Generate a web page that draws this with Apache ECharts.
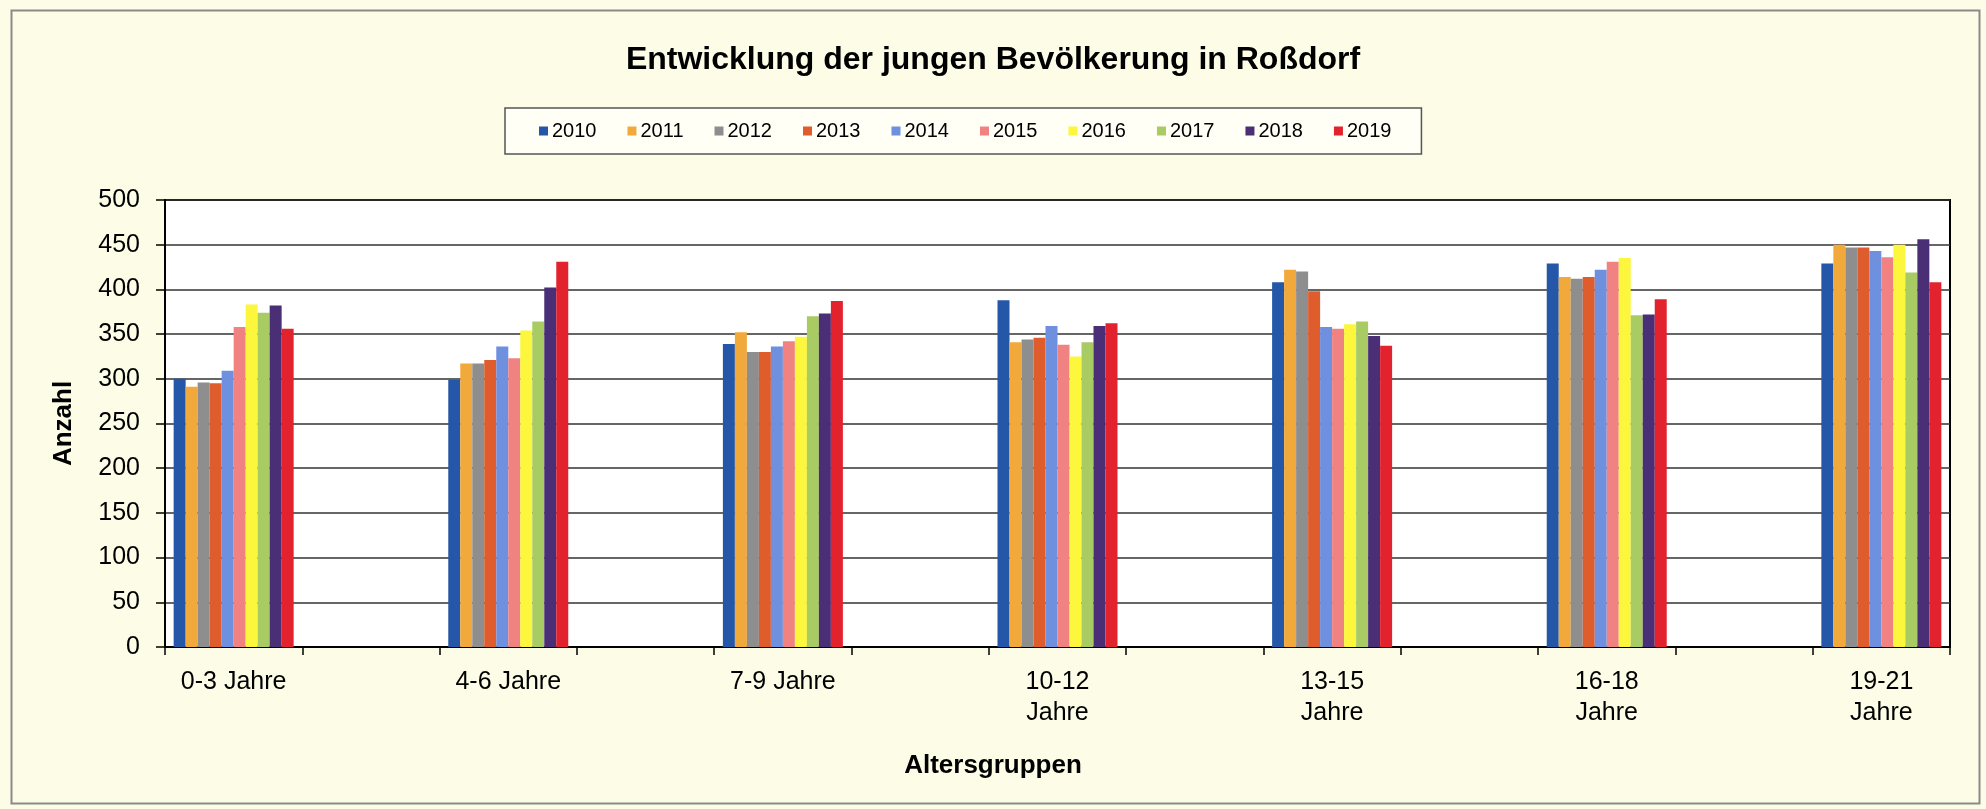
<!DOCTYPE html>
<html>
<head>
<meta charset="utf-8">
<script src="https://cdn.jsdelivr.net/npm/echarts@6/dist/echarts.min.js"></script>
<style>
html,body{margin:0;padding:0;background:#fdfce6;}
#chart{width:1986px;height:809px;}
</style>
</head>
<body>
<div id="chart"></div>
<script>
// Age groups (x categories)
const ageGroups = ['0-3 Jahre', '4-6 Jahre', '7-9 Jahre', '10-12 Jahre', '13-15 Jahre', '16-18 Jahre', '19-21 Jahre'];
// Years (series)
const years = ['2010', '2011', '2012', '2013', '2014', '2015', '2016', '2017', '2018', '2019'];
// Values per year, one per age group
const v2010 = [300, 299, 339, 388, 408, 429, 429];
const v2011 = [291, 317, 352, 341, 422, 414, 450];
const v2012 = [296, 317, 330, 344, 420, 412, 447];
const v2013 = [295, 321, 330, 346, 398, 414, 447];
const v2014 = [309, 336, 336, 359, 358, 422, 443];
const v2015 = [358, 323, 342, 338, 356, 431, 436];
const v2016 = [383, 354, 347, 325, 361, 435, 450];
const v2017 = [374, 364, 370, 341, 364, 371, 419];
const v2018 = [382, 402, 373, 359, 348, 372, 456];
const v2019 = [356, 431, 387, 362, 337, 389, 408];
const yTicks = [0, 50, 100, 150, 200, 250, 300, 350, 400, 450, 500];

const seriesValues = [v2010, v2011, v2012, v2013, v2014, v2015, v2016, v2017, v2018, v2019];
const colors = ['#2457a8', '#f2a93b', '#8e8e8e', '#df5c2c', '#6f8fdf', '#f08282', '#fcf63c', '#a9cb64', '#4b2f76', '#e2232e'];

// The original chart places an empty category between each age group
const cats = [];
ageGroups.forEach((g, i) => { cats.push(g); if (i < ageGroups.length - 1) cats.push(''); });
function spread(arr) {
  const out = [];
  arr.forEach((v, i) => { out.push(v); if (i < arr.length - 1) out.push(null); });
  return out;
}

const font = 'Liberation Sans, Arial, sans-serif';
const chart = echarts.init(document.getElementById('chart'));
chart.setOption({
  backgroundColor: '#fdfce6',
  animation: false,
  textStyle: { fontFamily: font, color: '#000' },
  title: [
    { text: 'Entwicklung der jungen Bevölkerung in Roßdorf', left: 'center', top: 39,
      textStyle: { fontSize: 32, fontWeight: 'bold', color: '#000', fontFamily: font } },
    { text: 'Altersgruppen', left: 'center', top: 748,
      textStyle: { fontSize: 26, fontWeight: 'bold', color: '#000', fontFamily: font } }
  ],
  legend: {
    data: years,
    left: 505, top: 108,
    itemWidth: 9, itemHeight: 9, itemGap: 31,
    padding: [13, 30, 13, 34],
    borderColor: '#555', borderWidth: 1.5,
    backgroundColor: '#fffff6',
    textStyle: { fontSize: 20, color: '#000', fontFamily: font, padding: [0, 0, 0, -1] },
    icon: 'rect'
  },
  graphic: [
    { type: 'rect', left: 9, top: 8, shape: { width: 1968, height: 793 },
      style: { fill: null, stroke: '#8a8a8a', lineWidth: 2 }, silent: true, z: -1 }
  ],
  grid: {
    left: 165, right: 36, top: 200, bottom: 162,
    show: true, backgroundColor: '#ffffff', borderColor: '#000', borderWidth: 2
  },
  xAxis: {
    type: 'category',
    data: cats,
    axisLine: { lineStyle: { color: '#000', width: 2 } },
    axisTick: { show: true, interval: 0, length: 8, lineStyle: { color: '#000', width: 1.5 } },
    axisLabel: {
      interval: 0, margin: 20, fontSize: 25, color: '#000', fontFamily: font, lineHeight: 31,
      formatter: (s) => s.length > 9 ? s.replace(' ', '\n') : s
    }
  },
  yAxis: {
    type: 'value', min: 0, max: 500, interval: 50,
    name: 'Anzahl', nameLocation: 'middle', nameGap: 88, nameRotate: 90,
    nameTextStyle: { fontSize: 26, fontWeight: 'bold', color: '#000', fontFamily: font },
    axisLine: { show: true, lineStyle: { color: '#000', width: 2 } },
    axisTick: { show: true, length: 9, lineStyle: { color: '#000', width: 1.5 } },
    axisLabel: { margin: 25, fontSize: 25, color: '#000', fontFamily: font,
      formatter: (v) => yTicks.includes(v) ? String(v) : '' },
    splitLine: { show: true, lineStyle: { color: '#333', width: 1.5 } }
  },
  series: years.map((y, i) => ({
    name: y, type: 'bar', barWidth: 12, barGap: '0%',
    data: spread(seriesValues[i]),
    itemStyle: { color: colors[i] }
  }))
});
</script>
</body>
</html>
